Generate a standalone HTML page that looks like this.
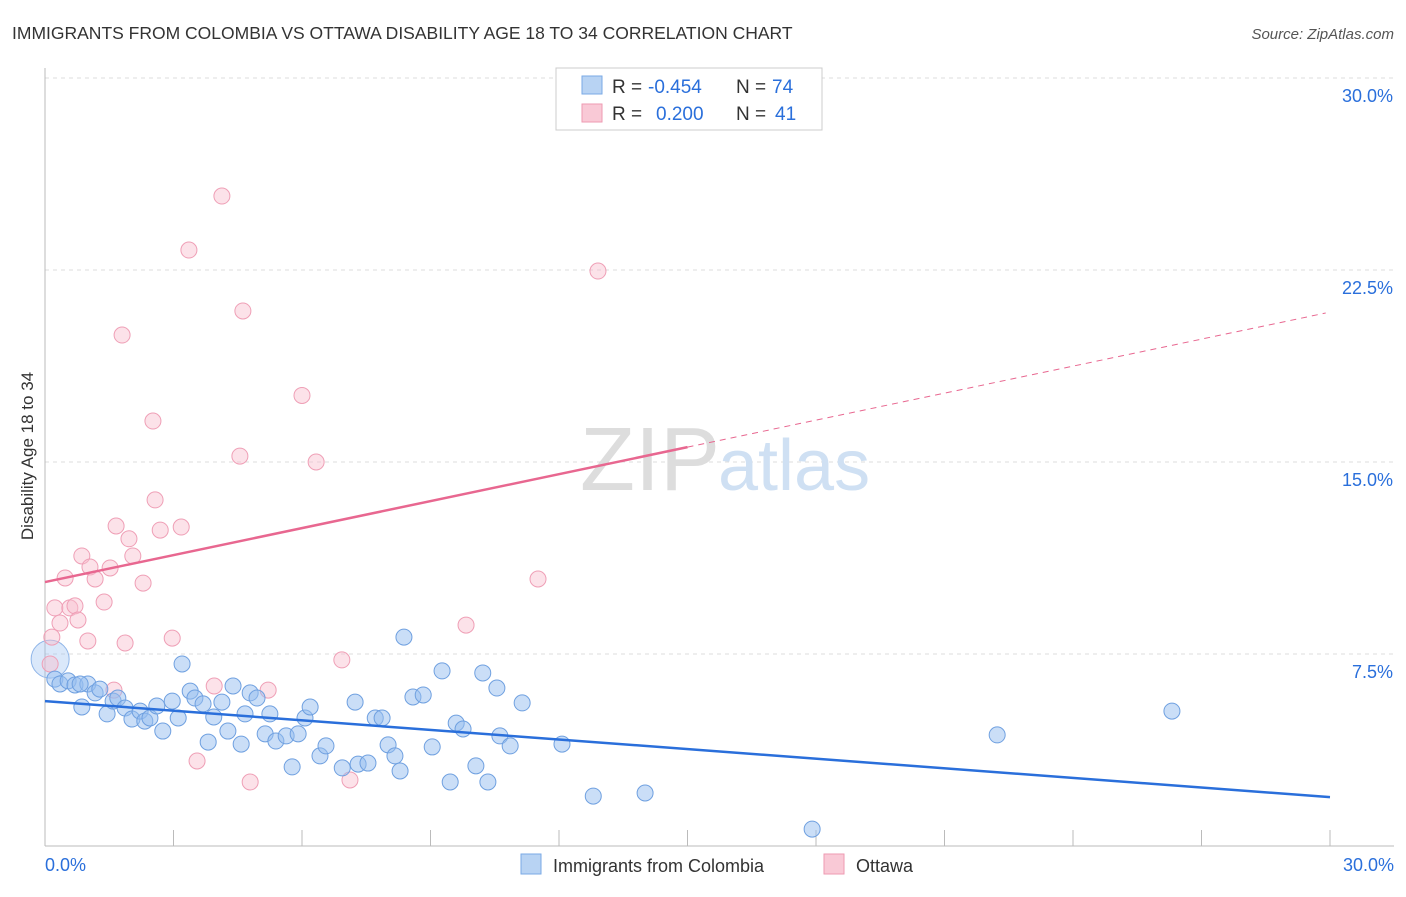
<!DOCTYPE html>
<html><head><meta charset="utf-8"><style>
body{margin:0;background:#fff;font-family:"Liberation Sans",sans-serif;}
svg text{font-family:"Liberation Sans",sans-serif;}
</style></head><body>
<svg width="1406" height="892">
<text x="12" y="39" font-size="17.5" fill="#333">IMMIGRANTS FROM COLOMBIA VS OTTAWA DISABILITY AGE 18 TO 34 CORRELATION CHART</text>
<text x="1394" y="39" font-size="15" fill="#555" text-anchor="end" font-style="italic">Source: ZipAtlas.com</text>
<g id="grid"></g>
<text x="720" y="490" font-size="90" fill="#ddd" text-anchor="end" font-family="Liberation Serif">ZIP</text>
<text x="718" y="490" font-size="72" fill="#cfe0f3">atlas</text>
<text transform="translate(33,456) rotate(-90)" font-size="17" fill="#333" text-anchor="middle">Disability Age 18 to 34</text>
<g id="pts"></g>
<g id="trend"></g>
<g>
<rect x="556" y="68" width="266" height="62" fill="#fff" stroke="#ccc"/>
<rect x="582" y="76" width="20" height="18" fill="#b8d3f3" stroke="#7aa9e6"/>
<rect x="582" y="104" width="20" height="18" fill="#f9c9d6" stroke="#ee9ab2"/>
<text x="612" y="93" font-size="19" fill="#333">R =</text>
<text x="648" y="93" font-size="19" fill="#2a6fdb">-0.454</text>
<text x="736" y="93" font-size="19" fill="#333">N =</text>
<text x="772" y="93" font-size="19" fill="#2a6fdb">74</text>
<text x="612" y="120" font-size="19" fill="#333">R =</text>
<text x="656" y="120" font-size="19" fill="#2a6fdb">0.200</text>
<text x="736" y="120" font-size="19" fill="#333">N =</text>
<text x="775" y="120" font-size="19" fill="#2a6fdb">41</text>
</g>
<g>
<rect x="521" y="854" width="20" height="20" fill="#b8d3f3" stroke="#7aa9e6"/>
<text x="553" y="872" font-size="18" fill="#333">Immigrants from Colombia</text>
<rect x="824" y="854" width="20" height="20" fill="#f9c9d6" stroke="#ee9ab2"/>
<text x="856" y="872" font-size="18" fill="#333">Ottawa</text>
</g>
</svg>
<script>
const yTicks=[7.5,15,22.5,30];
const yTickLabels=["7.5%","15.0%","22.5%","30.0%"];
const blueX=[0.23,0.35,0.54,0.70,1.00,0.86,1.17,1.28,1.45,1.59,1.70,1.87,2.03,2.22,2.33,2.45,2.61,2.75,2.97,3.11,3.20,3.39,3.50,3.69,3.81,3.94,4.13,4.27,4.39,4.58,4.67,4.79,4.95,5.14,5.25,5.39,5.63,5.77,5.91,6.07,6.19,6.42,6.56,6.94,7.24,7.31,7.54,7.71,7.87,8.01,8.17,8.29,8.38,8.59,8.83,9.04,9.27,9.46,9.60,9.76,10.06,10.22,10.34,10.55,10.62,10.86,11.14,12.07,12.80,14.01,17.91,22.23,26.31,0.82];
const blueY=[6.52,6.33,6.45,6.29,6.33,5.43,5.98,6.13,5.16,5.66,5.78,5.39,4.96,5.27,4.88,5.00,5.47,4.49,5.66,5.00,7.11,6.05,5.78,5.55,4.06,5.04,5.62,4.49,6.25,3.98,5.16,5.98,5.78,4.38,5.16,4.1,4.3,3.09,4.38,5.0,5.43,3.52,3.91,3.05,5.62,3.20,3.24,5.00,5.00,3.95,3.52,2.93,8.16,5.82,5.90,3.87,6.84,2.50,4.80,4.57,3.13,6.76,2.50,6.17,4.3,3.91,5.59,3.98,1.95,2.07,0.66,4.34,5.27,6.33];
const pinkX=[0.12,0.16,0.23,0.35,0.47,0.58,0.70,0.77,0.86,1.00,1.05,1.17,1.38,1.52,1.66,1.61,1.80,1.87,1.96,2.05,2.29,2.52,2.57,2.69,2.97,3.18,3.36,3.55,3.95,4.13,4.55,4.62,4.79,5.21,6.00,6.33,6.93,7.12,9.83,11.51,12.91];
const pinkY=[7.11,8.16,9.30,8.71,10.47,9.30,9.38,8.83,11.33,8.01,10.9,10.43,9.53,10.86,12.5,6.09,19.96,7.93,12.00,11.33,10.27,16.6,13.52,12.34,8.12,12.46,23.28,3.32,6.25,25.39,15.23,20.9,2.5,6.09,17.6,15.0,7.27,2.58,8.63,10.43,22.46];
const blueTrend=[[0,5.66],[30,1.91]];
const pinkTrend=[[0,10.31],[15,15.58],[29.9,20.82]];
const X=v=>45+v*42.833, Y=v=>846-v*25.6;
const NS="http://www.w3.org/2000/svg";
function mk(t,a,p){const e=document.createElementNS(NS,t);for(const k in a)e.setAttribute(k,a[k]);p.appendChild(e);return e;}
const grid=document.getElementById('grid');
yTicks.forEach((v,i)=>{
 const l=mk('line',{x1:45,x2:1394,y1:Y(v),y2:Y(v),stroke:'#ddd','stroke-dasharray':'4,4'},grid);
 
 
 const t=mk('text',{x:1393,y:Y(v)+24,'font-size':18,fill:'#2a6fdb','text-anchor':'end'},grid);
 t.textContent=yTickLabels[i];
 
 
});
const ax=mk('line',{x1:45,x2:1394,y1:846,y2:846,stroke:'#bbb'},grid);


const ay=mk('line',{x1:45,x2:45,y1:68,y2:846,stroke:'#bbb'},grid);


for(let i=0;i<=10;i++){const tk=mk('line',{x1:X(i*3),x2:X(i*3),y1:830,y2:846,stroke:'#bbb'},grid);
 
 }
[["0.0%",45,'start'],["30.0%",1394,'end']].forEach(a=>{const t=mk('text',{x:a[1],y:871,'font-size':18,fill:'#2a6fdb','text-anchor':a[2]},grid);t.textContent=a[0];
 
 });
const pts=document.getElementById('pts');
const big=mk('circle',{cx:X(0.12),cy:Y(7.3),r:19,fill:'rgba(150,190,240,0.35)',stroke:'#8fb5e8'},pts);


pinkX.forEach((v,i)=>{const c=mk('circle',{cx:X(v),cy:Y(pinkY[i]),r:8,fill:'rgba(248,190,206,0.45)',stroke:'#ef9fb6'},pts);
 
 });
blueX.forEach((v,i)=>{const c=mk('circle',{cx:X(v),cy:Y(blueY[i]),r:8,fill:'rgba(150,190,240,0.5)',stroke:'#6fa0e0'},pts);
 
 });
const tr=document.getElementById('trend');
const b=mk('line',{x1:X(blueTrend[0][0]),y1:Y(blueTrend[0][1]),x2:X(blueTrend[1][0]),y2:Y(blueTrend[1][1]),stroke:'#2a6fdb','stroke-width':2.5},tr);


const p1=mk('line',{x1:X(pinkTrend[0][0]),y1:Y(pinkTrend[0][1]),x2:X(pinkTrend[1][0]),y2:Y(pinkTrend[1][1]),stroke:'#e86790','stroke-width':2.5},tr);


const p2=mk('line',{x1:X(pinkTrend[1][0]),y1:Y(pinkTrend[1][1]),x2:X(pinkTrend[2][0]),y2:Y(pinkTrend[2][1]),stroke:'#e86790','stroke-width':1,'stroke-dasharray':'6,5'},tr);


</script>
</body></html>
